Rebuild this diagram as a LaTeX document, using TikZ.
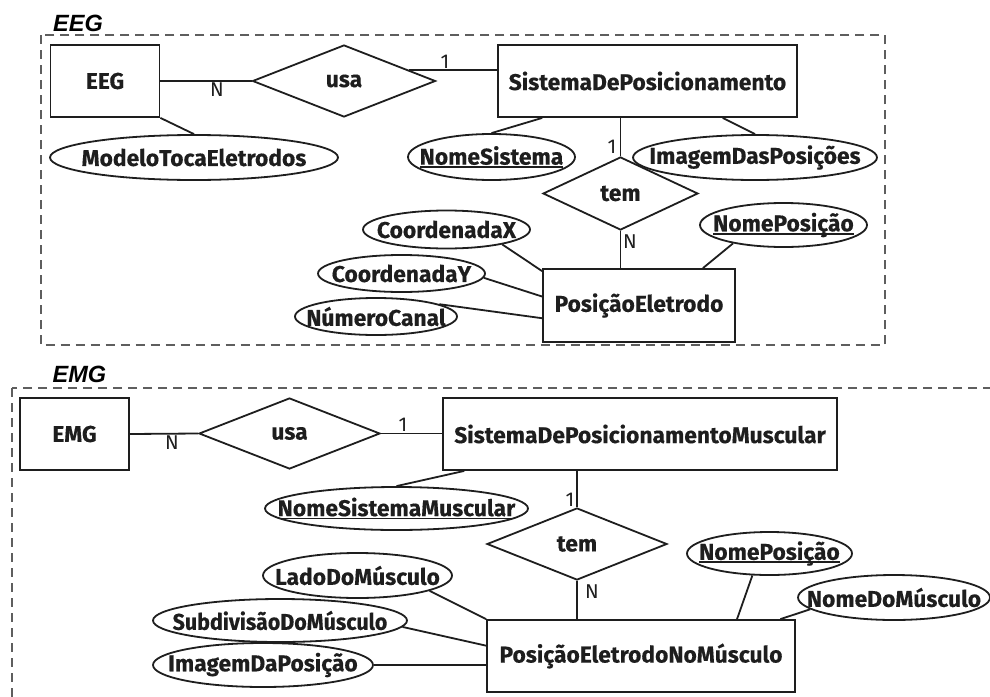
\documentclass[tikz,border=0pt]{standalone}
\usepackage{graphicx}
\usepackage{fontspec}
\setmainfont{Fira Sans}[BoldFeatures={FakeBold=0.35}]
\newfontfamily\titlefont{Liberation Sans}
\usetikzlibrary{shapes.geometric,calc}

\definecolor{ink}{HTML}{1E1E1E}
\definecolor{framegray}{HTML}{5E5E5E}

% underline drawn a little below the baseline
\newcommand\undl[1]{\setbox0\hbox{#1}\leavevmode\rlap{\vrule height -1.6pt depth 3.3pt width \wd0}\box0}
% text that does not widen the shape around it
\newcommand\ctext[1]{\makebox[0pt]{#1}}

\tikzset{
  erfont/.style={font=\bfseries\fontsize{22.8}{26}\selectfont},
  entity/.style={draw=ink, line width=1.8pt, rectangle, inner sep=0pt, erfont, text=ink},
  relation/.style={draw=ink, line width=1.8pt, diamond, inner sep=0pt, erfont, text=ink},
  attr/.style={draw=ink, line width=1.8pt, ellipse, inner sep=0pt, erfont, text=ink},
  conn/.style={draw=ink, line width=1.8pt},
  card/.style={inner sep=0pt, font=\fontsize{20}{22}\selectfont, text=ink},
  frame/.style={draw=framegray, line width=2pt, dash pattern=on 9pt off 6pt},
  title/.style={inner sep=0pt, font=\titlefont\bfseries\itshape\fontsize{23.5}{26}\selectfont}
}

\begin{document}
\begin{tikzpicture}[x=1pt,y=-1pt]
\useasboundingbox (0,0) rectangle (990,696);
\clip (0,0) rectangle (990,696);
\fill[white] (0,0) rectangle (990,696);

% ---------------- EEG ----------------
\draw[frame] (40.7,35) rectangle (885,345);
\node[title] (teeg) at (78,23) {EEG};

\node[entity, minimum width=109pt, minimum height=72pt] (eeg) at (105,81) {EEG};
\node[relation, minimum width=183pt, minimum height=72pt] (usa1) at (344,81) {\ctext{usa}};
\node[entity, minimum width=299pt, minimum height=72pt] (sp) at (647.5,81) {\ctext{SistemaDePosicionamento}};
\node[attr, minimum width=288pt, minimum height=45pt] (mte) at (194,157.5) {\ctext{ModeloTocaEletrodos}};
\node[attr, minimum width=167pt, minimum height=46pt] (nsis) at (491.5,157) {\ctext{\undl{NomeSistema}}};
\node[attr, minimum width=244pt, minimum height=45pt] (idp) at (755,157.5) {\ctext{ImagemDasPosições}};
\node[relation, minimum width=155pt, minimum height=73pt] (tem1) at (620.5,193.5) {\ctext{tem}};
\node[entity, minimum width=192pt, minimum height=73pt] (pe) at (639,305.5) {\ctext{PosiçãoEletrodo}};
\node[attr, minimum width=167pt, minimum height=38pt] (cx) at (446.5,229.5) {\ctext{CoordenadaX}};
\node[attr, minimum width=167pt, minimum height=37pt] (cy) at (401.5,273.5) {\ctext{CoordenadaY}};
\node[attr, minimum width=162pt, minimum height=37pt] (nc) at (376,316.5) {\ctext{NúmeroCanal}};
\node[attr, minimum width=167pt, minimum height=44pt] (np1) at (783.5,225) {\ctext{\undl{NomePosição}}};

\draw[conn] (eeg.east) -- (usa1.west);
\coordinate (u1) at ($(usa1.east)!0.3!(usa1.north)$);
\draw[conn] (u1) -- (u1 -| sp.west);
\draw[conn] (eeg.south east) -- (mte.north);
\draw[conn] ($(sp.south west)!0.15!(sp.south east)$) -- (nsis.north);
\draw[conn] ($(sp.south west)!0.75!(sp.south east)$) -- (idp.north);
\draw[conn] (tem1.north) -- (tem1.north |- sp.south);
\draw[conn] (tem1.south) -- (tem1.south |- pe.north);
\draw[conn] (cx.-15) -- ($(pe.north west)!0.04!(pe.south west)$);
\draw[conn] (cy.-3) -- ($(pe.north west)!0.38!(pe.south west)$);
\draw[conn] (nc.11) -- ($(pe.north west)!0.67!(pe.south west)$);
\draw[conn] (np1.-160) -- ($(pe.north west)!0.83!(pe.north east)$);

\node[card] (k1) at (217,90) {N};
\node[card] (k2) at (445,62) {1};
\node[card] (k3) at (612,147) {1};
\node[card] (k4) at (630,242) {N};

% ---------------- EMG ----------------
\draw[frame] (12,388) rectangle (1010,720);
\node[title] (temg) at (79.5,374) {EMG};

\node[entity, minimum width=109pt, minimum height=72pt] (emg) at (74.5,434) {EMG};
\node[relation, minimum width=181pt, minimum height=71pt] (usa2) at (289.5,433.5) {\ctext{usa}};
\node[entity, minimum width=394pt, minimum height=72pt] (spm) at (640,434) {\ctext{SistemaDePosicionamentoMuscular}};
\node[attr, minimum width=263pt, minimum height=43pt] (nsm) at (396.5,508.5) {\ctext{\undl{NomeSistemaMuscular}}};
\node[relation, minimum width=180pt, minimum height=72pt] (tem2) at (577,544) {\ctext{tem}};
\node[entity, minimum width=308pt, minimum height=72pt] (pem) at (641,656) {\ctext{PosiçãoEletrodoNoMúsculo}};
\node[attr, minimum width=189pt, minimum height=45pt] (ldm) at (357.5,575.5) {\ctext{LadoDoMúsculo}};
\node[attr, minimum width=254pt, minimum height=43pt] (sdm) at (280,620.5) {\ctext{\scalebox{0.94}[1]{SubdivisãoDoMúsculo}}};
\node[attr, minimum width=220pt, minimum height=44pt] (imp) at (263,665) {\ctext{ImagemDaPosição}};
\node[attr, minimum width=165pt, minimum height=43pt] (np2) at (769.5,553.5) {\ctext{\undl{NomePosição}}};
\node[attr, minimum width=192pt, minimum height=45pt] (ndm) at (894,597.5) {\ctext{NomeDoMúsculo}};

\draw[conn] (emg.east) -- (usa2.west);
\draw[conn] (usa2.east) -- (usa2.east -| spm.west);
\draw[conn] ($(spm.south west)!0.056!(spm.south east)$) -- (nsm.north);
\draw[conn] (tem2.north) -- (tem2.north |- spm.south);
\draw[conn] (tem2.south) -- (tem2.south |- pem.north);
\draw[conn] (ldm.-12) -- (pem.north west);
\draw[conn] (sdm.-3) -- ($(pem.north west)!0.36!(pem.south west)$);
\draw[conn] (imp.east) -- (imp.east -| pem.west);
\draw[conn] (np2.-128) -- ($(pem.north west)!0.81!(pem.north east)$);
\draw[conn] (ndm.-172) -- ($(pem.north west)!0.95!(pem.north east)$);

\node[card] (k5) at (172,443) {N};
\node[card] (k6) at (403,425) {1};
\node[card] (k7) at (570,500) {1};
\node[card] (k8) at (592,592) {N};
\end{tikzpicture}
\end{document}
